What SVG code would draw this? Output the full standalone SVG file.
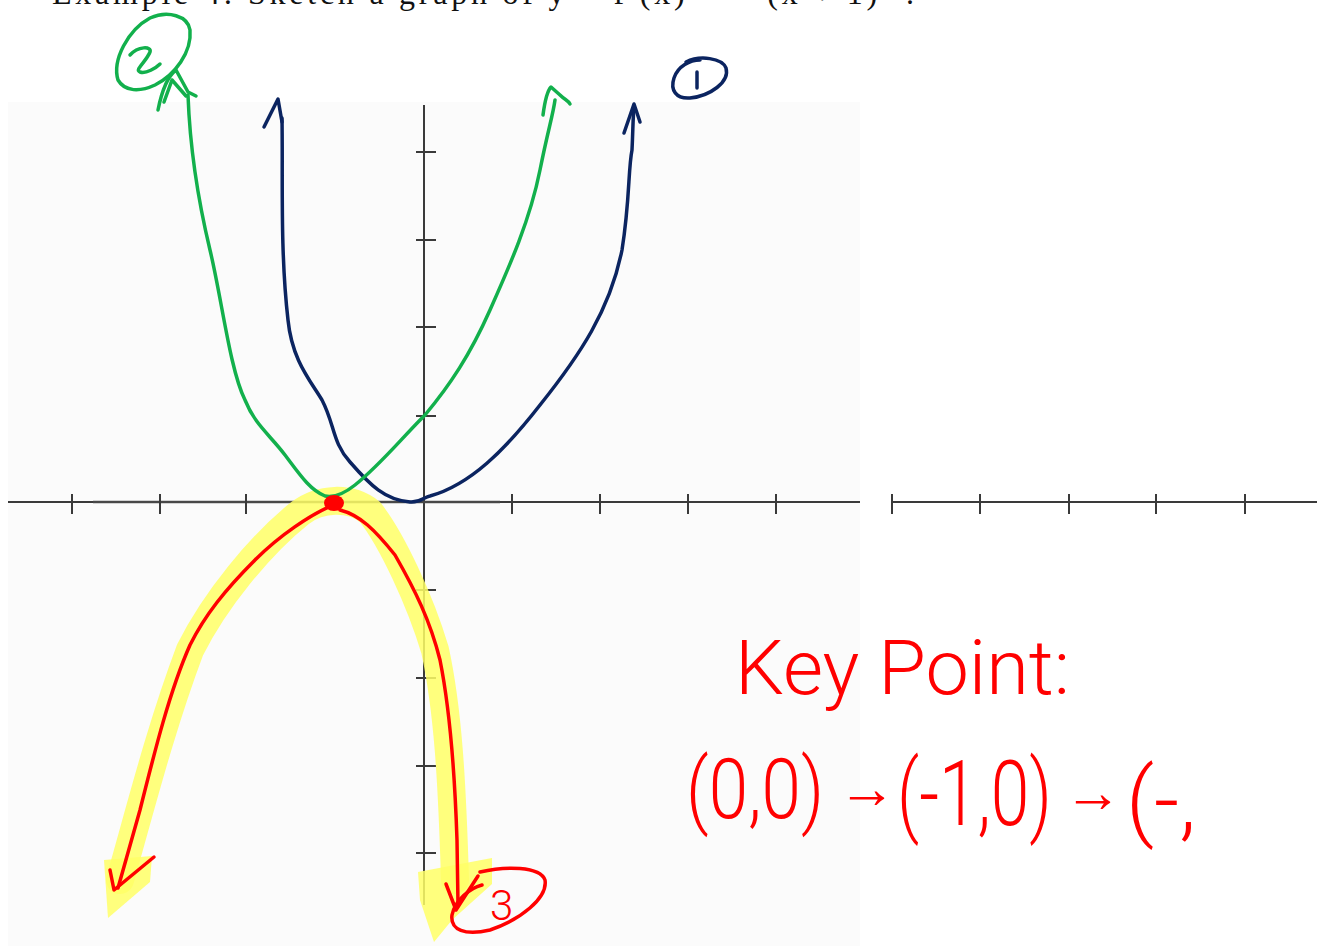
<svg xmlns="http://www.w3.org/2000/svg" width="1317" height="946" viewBox="0 0 1317 946">
<style>
.ax{stroke:#3a3a3a;stroke-width:2;fill:none}
.ink{fill:none;stroke-linecap:round;stroke-linejoin:round;stroke-width:3.5}
.navy{stroke:#0b2460}
.green{stroke:#12b04c}
.red{stroke:#ff0000}
.hl{fill:none;stroke:#ffff66;stroke-opacity:0.85;stroke-linecap:round;stroke-linejoin:round}
.hw{font-family:Roboto,"Open Sans","Liberation Sans",sans-serif;font-weight:300;fill:#ff0000}
</style>
<rect width="1317" height="946" fill="#ffffff"/>
<rect x="8" y="102" width="852" height="844" fill="#fbfbfb"/>
<text x="52" y="4" font-family="Liberation Serif,serif" font-size="32" fill="#111" textLength="862" lengthAdjust="spacing">Example 4: Sketch a graph of y = f (x) = − (x + 1)² .</text>

<g id="axes">
<line class="ax" x1="424" y1="105" x2="424" y2="905"/>
<line class="ax" x1="8" y1="502" x2="860" y2="502"/>
<line x1="93" y1="502" x2="500" y2="502" stroke="#555" stroke-width="3" stroke-opacity="0.5"/>
<line class="ax" x1="892" y1="502" x2="1317" y2="502"/>
<path class="ax" d="M72,494V514M160,494V514M246,494V514M512,494V514M600,494V514M688,494V514M776,494V514M892,494V514M980,494V514M1069,494V514M1156,494V514M1245,494V514"/>
<path class="ax" d="M416,152H436M416,240H436M416,327H436M416,416H436M416,590H436M416,678H436M416,766H436M416,853H436"/>
</g>

<g id="highlight">
<path class="hl" stroke-width="28" d="M120,880 C140,810 160,730 190,650 C215,600 260,545 300,513 C320,498 350,496 370,512 C392,540 420,600 435,650 C448,710 452,780 455,880"/>
<path d="M104,860 L152,856 L150,882 L108,918 Z" fill="#ffff66" fill-opacity="0.85"/>
<path d="M418,872 L492,858 L492,884 L452,920 L434,942 L420,900 Z" fill="#ffff66" fill-opacity="0.85"/>
</g>

<g id="curve-1">
<path class="ink navy" d="M282,118 C283,180 280,250 288,320 C292,360 310,380 322,400 C335,425 332,442 350,462 C370,485 385,500 410,502 C420,503 424,497 430,496 C470,485 505,450 540,405 C580,355 610,310 622,250 C630,200 628,170 632,150 C633,130 633,115 634,108"/>
<path class="ink navy" d="M264,127 L278,99 L282,122"/>
<path class="ink navy" d="M624,133 L634,104 L640,122"/>
<path class="ink navy" d="M686,62 C700,55 722,58 726,68 C730,82 710,96 690,98 C676,99 670,90 674,78 C678,66 690,60 700,60"/>
<path class="ink navy" d="M697,72 L697,88"/>
</g>

<g id="curve-2">
<path class="ink green" d="M188,95 C190,150 198,200 210,250 C222,300 230,370 245,400 C255,425 270,435 285,455 C300,475 310,490 325,496 C335,498 345,493 355,485 C380,465 400,440 425,415 C450,385 470,355 490,310 C510,265 530,220 540,170 C548,130 553,115 555,100"/>
<path class="ink green" d="M158,110 C162,90 168,76 176,70 L188,92 L196,96"/>
<path class="ink green" d="M164,102 L172,80 L186,96"/>
<path class="ink green" d="M543,115 C545,100 548,90 551,87 L560,95 C565,100 568,100 570,104"/>
<path class="ink green" d="M118,80 C112,60 128,30 150,18 C168,10 188,16 190,30 C192,52 175,75 155,85 C140,92 125,92 118,80"/>
<path class="ink green" d="M130,55 C138,46 152,46 150,52 C146,62 134,70 140,72 C146,74 156,68 160,64"/>
</g>

<g id="curve-3">
<path class="ink red" d="M333,505 C310,515 280,535 255,560 C225,590 205,615 190,645 C170,690 155,750 140,810 L118,888"/>
<path class="ink red" d="M340,510 C360,515 375,530 395,555 C415,590 430,620 440,660 C450,710 455,780 457,840 L458,905"/>
<path class="ink red" d="M110,870 L114,890 L154,857"/>
<path class="ink red" d="M446,884 L456,910 L478,876"/>
<path class="ink red" d="M480,872 C505,866 540,866 545,880 C548,898 520,920 490,930 C465,936 450,930 452,915 C455,900 470,888 482,885"/>
<ellipse cx="334" cy="503" rx="10" ry="8" fill="#ff0000"/>
<text class="hw" x="490" y="920" font-size="42">3</text>
</g>

<g id="key-point">
<text class="hw" x="735" y="694" font-size="76" textLength="335" lengthAdjust="spacingAndGlyphs">Key Point:</text>
<text class="hw" font-size="84"><tspan x="686" y="818" textLength="138" lengthAdjust="spacingAndGlyphs">(0,0)</tspan><tspan x="838" y="808" font-size="58">→</tspan><tspan x="897" y="825" font-size="90" textLength="155" lengthAdjust="spacingAndGlyphs">(-1,0)</tspan><tspan x="1064" y="812" font-size="58">→</tspan><tspan x="1126" y="830" font-size="88">(-,</tspan></text>
</g>
</svg>
